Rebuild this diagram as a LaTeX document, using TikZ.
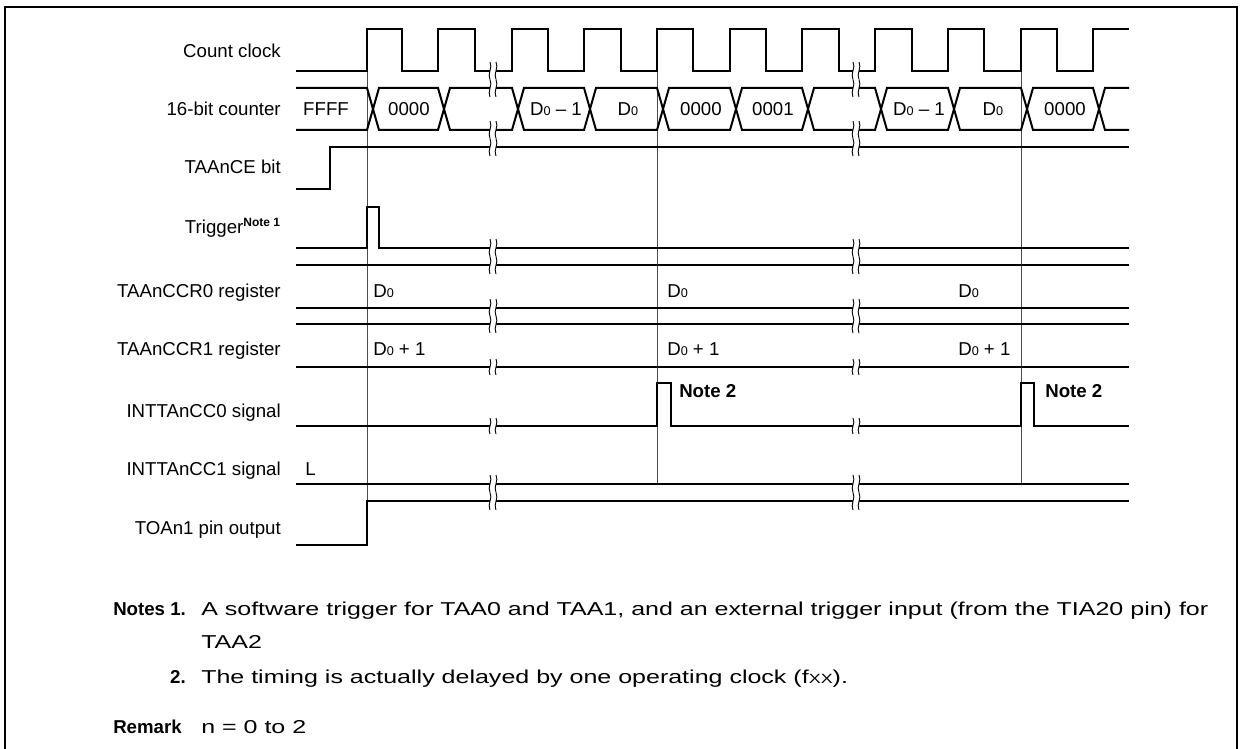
\documentclass[tikz,border=0pt]{standalone}
\usepackage{fontspec}
\setmainfont{Liberation Sans}
\newfontfamily\notefont[FakeStretch=1.34]{Liberation Sans}
\newcommand\brkone[3]{%
 \pgfmathsetmacro\hh{(#3-#2)/3}%
 \fill[white] (#1,#2) .. controls ({#1+3},{#2+\hh}) and ({#1-3},{#3-\hh}) .. (#1,#3) -- ({#1+6},#3) .. controls ({#1+3},{#3-\hh}) and ({#1+9},{#2+\hh}) .. ({#1+6},#2) -- cycle;
 \draw[brkln] (#1,#2) .. controls ({#1+3},{#2+\hh}) and ({#1-3},{#3-\hh}) .. (#1,#3);
 \draw[brkln] ({#1+6},#2) .. controls ({#1+9},{#2+\hh}) and ({#1+3},{#3-\hh}) .. ({#1+6},#3);
}
\newcommand\brktwo[3]{%
 \pgfmathsetmacro\mm{(#2+#3)/2}%
 \brkone{#1}{#2}{\mm}\brkone{#1}{\mm}{#3}%
}
\newcommand\Dz{D{\fontsize{9.5}{10}\selectfont 0}}
\begin{document}
\begin{tikzpicture}[x=0.75pt,y=-0.75pt,
  sig/.style={line width=1.5pt,line join=miter},
  guide/.style={line width=0.75pt,black!70},
  brkln/.style={line width=0.7pt},
  lab/.style={anchor=base east,inner sep=0,font=\fontsize{14}{16}\selectfont},
  val/.style={anchor=base,inner sep=0,font=\fontsize{14}{16}\selectfont},
  valw/.style={anchor=base west,inner sep=0,font=\fontsize{14}{16}\selectfont},
  note/.style={anchor=base west,inner sep=0,font=\notefont\fontsize{14}{16}\selectfont},
  noteb/.style={anchor=base west,inner sep=0,font=\fontsize{14}{16}\selectfont\bfseries}]
\useasboundingbox (0,0) rectangle (1240,749);
% frame
\draw[line width=1.8pt] (5,749) -- (5,7) -- (1237,7) -- (1237,749);
% guides
\draw[guide] (367,71) -- (367,501);
\draw[guide] (657,71) -- (657,484);
\draw[guide] (1021,71) -- (1021,484);
% count clock
\draw[sig] (296,71)--(367,71)--(367,29)--(402,29)--(402,71)--(438,71)--(438,29)--(475,29)--(475,71)--(512,71)--(512,29)--(548,29)--(548,71)--(584,71)--(584,29)--(621,29)--(621,71)--(657,71)--(657,29)--(693,29)--(693,71)--(730,71)--(730,29)--(766,29)--(766,71)--(802,71)--(802,29)--(839,29)--(839,71)--(875,71)--(875,29)--(912,29)--(912,71)--(948,71)--(948,29)--(984,29)--(984,71)--(1021,71)--(1021,29)--(1057,29)--(1057,71)--(1093,71)--(1093,29)--(1129,29);
% counter bus
\draw[sig] (296,88)--(367,88)--(379,130)--(438,130)--(450,88)--(512,88)--(524,130)--(584,130)--(596,88)--(657,88)--(669,130)--(730,130)--(742,88)--(802,88)--(814,130)--(875,130)--(887,88)--(948,88)--(960,130)--(1021,130)--(1033,88)--(1093,88)--(1105,130)--(1129,130);
\draw[sig] (296,130)--(367,130)--(379,88)--(438,88)--(450,130)--(512,130)--(524,88)--(584,88)--(596,130)--(657,130)--(669,88)--(730,88)--(742,130)--(802,130)--(814,88)--(875,88)--(887,130)--(948,130)--(960,88)--(1021,88)--(1033,130)--(1093,130)--(1105,88)--(1129,88);
% TAAnCE
\draw[sig] (296,189)--(330,189)--(330,147)--(1129,147);
% trigger
\draw[sig] (296,248)--(367,248)--(367,207)--(379,207)--(379,248)--(1129,248);
% CCR0, CCR1
\draw[sig] (296,265)--(1129,265) (296,308)--(1129,308);
\draw[sig] (296,324)--(1129,324) (296,367)--(1129,367);
% INTTAnCC0
\draw[sig] (296,426)--(657,426)--(657,383)--(671,383)--(671,426)--(1021,426)--(1021,383)--(1034,383)--(1034,426)--(1129,426);
% INTTAnCC1
\draw[sig] (296,484)--(1129,484);
% TOAn1
\draw[sig] (296,545)--(367,545)--(367,501)--(1129,501);
% break marks
\foreach \bx in {490,853}{
 \brktwo{\bx}{62}{97}
 \brktwo{\bx}{121}{156}
 \brktwo{\bx}{239}{274}
 \brktwo{\bx}{299}{333}
 \brkone{\bx}{359}{375}
 \brkone{\bx}{418}{434}
 \brktwo{\bx}{475}{510}
}
% labels
\node[lab] (l1) at (281,58) {Count clock};
\node[lab] (l2) at (281,116) {16-bit counter};
\node[lab] (l3) at (281,173) {TAAnCE bit};
\node[lab] (l4) at (281,233) {Trigger\textsuperscript{\bfseries\fontsize{9}{10}\selectfont Note 1}};
\node[lab] (l5) at (281,297) {TAAnCCR0 register};
\node[lab] (l6) at (281,355) {TAAnCCR1 register};
\node[lab] (l7) at (281,417) {INTTAnCC0 signal};
\node[lab] (l8) at (281,475) {INTTAnCC1 signal};
\node[lab] (l9) at (281,534) {TOAn1 pin output};
% counter values
\node[val] (c1) at (326,116) {FFFF};
\node[val] (c2) at (409,116) {0000};
\node[val] (c3) at (556,116) {\Dz{} -- 1};
\node[val] (c4) at (628,116) {\Dz};
\node[val] (c5) at (701,116) {0000};
\node[val] (c6) at (773,116) {0001};
\node[val] (c7) at (919,116) {\Dz{} -- 1};
\node[val] (c8) at (993,116) {\Dz};
\node[val] (c9) at (1065,116) {0000};
% register values
\node[valw] (r01) at (373,297) {\Dz};
\node[valw] (r02) at (667,297) {\Dz};
\node[valw] (r03) at (958,297) {\Dz};
\node[valw] (r11) at (373,355) {\Dz{} + 1};
\node[valw] (r12) at (667,355) {\Dz{} + 1};
\node[valw] (r13) at (958,355) {\Dz{} + 1};
\node[valw,font=\fontsize{14}{16}\selectfont\bfseries] (n21) at (679,397) {Note 2};
\node[valw,font=\fontsize{14}{16}\selectfont\bfseries] (n22) at (1045,397) {Note 2};
\node[valw] (lo) at (305,475) {L};
% notes
\node[noteb] (nt1) at (113,615) {Notes 1.};
\node[note] (nt1t) at (201,615) {A software trigger for TAA0 and TAA1, and an external trigger input (from the TIA20 pin) for};
\node[note] (nt1u) at (201,648) {TAA2};
\node[noteb,anchor=base east] (nt2) at (186,683) {2.};
\node[note] (nt2t) at (201,683) {The timing is actually delayed by one operating clock (f{\fontsize{10}{12}\selectfont XX}).};
\node[noteb] (rm) at (113,733) {Remark};
\node[note] (rmt) at (201,733) {n = 0 to 2};
\end{tikzpicture}
\end{document}
